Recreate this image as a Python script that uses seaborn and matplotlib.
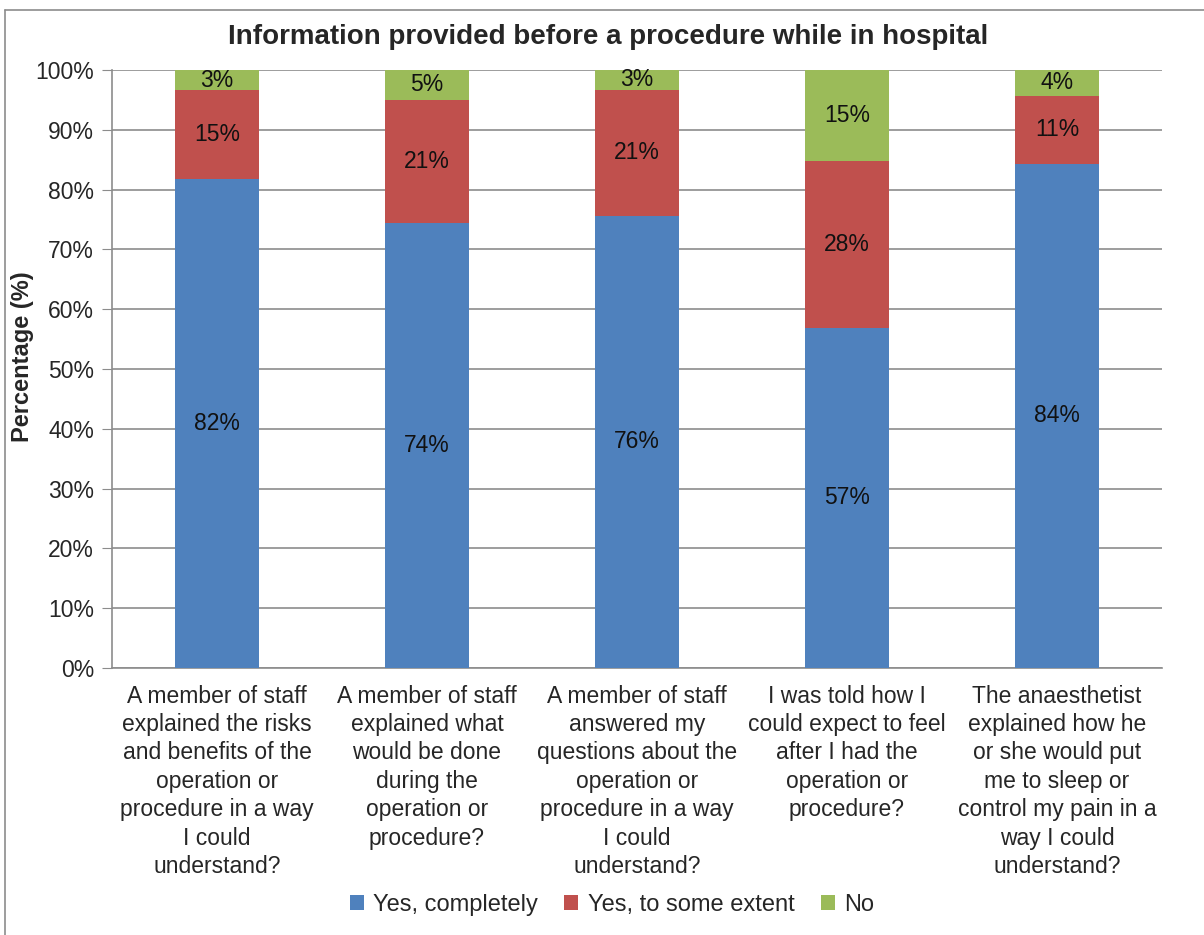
import numpy as np
import pandas as pd
import matplotlib
matplotlib.use('Agg')
import matplotlib.pyplot as plt
from matplotlib.lines import Line2D
from matplotlib.patches import Patch
import seaborn as sns

# Data
questions = [
    'A member of staff\nexplained the risks\nand benefits of the\noperation or\nprocedure in a way\nI could\nunderstand?',
    'A member of staff\nexplained what\nwould be done\nduring the\noperation or\nprocedure?',
    'A member of staff\nanswered my\nquestions about the\noperation or\nprocedure in a way\nI could\nunderstand?',
    'I was told how I\ncould expect to feel\nafter I had the\noperation or\nprocedure?',
    'The anaesthetist\nexplained how he\nor she would put\nme to sleep or\ncontrol my pain in a\nway I could\nunderstand?',
]
yes_completely = [81.7, 74.4, 75.6, 56.9, 84.3]
yes_some_extent = [14.9, 20.6, 21.1, 27.9, 11.4]
no = [3.4, 5.0, 3.3, 15.2, 4.3]
series_names = ['Yes, completely', 'Yes, to some extent', 'No']
colors = ['#4F81BD', '#C0504D', '#9BBB59']

sns.set_style('white')
plt.rcParams['font.family'] = ['Liberation Sans', 'DejaVu Sans']

df = pd.DataFrame({'q': questions, 'blue': yes_completely,
                   'red': yes_some_extent, 'green': no})
df['top_red'] = df['blue'] + df['red']
df['top_green'] = df['top_red'] + df['green']

fig = plt.figure(figsize=(12.04, 9.35), dpi=100)
ax = fig.add_axes([112 / 1204, 1 - 668 / 935, 1050 / 1204, 598 / 935])

# stacked bars: draw cumulative tops from highest down
for col, c in zip(['top_green', 'top_red', 'blue'], colors[::-1]):
    sns.barplot(data=df, x='q', y=col, color=c, width=0.4, saturation=1,
                linewidth=0, ax=ax, zorder=3)

# segment labels
for i, row in df.iterrows():
    segs = [(0, row['blue']), (row['blue'], row['top_red']),
            (row['top_red'], row['top_green'])]
    vals = [row['blue'], row['red'], row['green']]
    for (lo, hi), v in zip(segs, vals):
        ax.text(i, (lo + hi) / 2, f'{v:.0f}%', ha='center', va='center',
                fontsize=16.5, color='#111111', zorder=4)

ax.set_ylim(0, 100)
ax.set_xlim(-0.5, 4.5)
ax.set_yticks(np.arange(0, 101, 10))
ax.set_yticklabels([f'{t}%' for t in range(0, 101, 10)], fontsize=16.5)
ax.yaxis.grid(True, color='#8c8c8c', linewidth=1.2, zorder=0)
ax.set_axisbelow(True)

ax.set_xticks(range(len(questions)))
ax.set_xticklabels(questions, fontsize=16.5, linespacing=1.3)
ax.set_xticks(np.arange(-0.5, 5, 1), minor=True)
ax.tick_params(axis='x', which='major', length=0, pad=12)
ax.tick_params(axis='x', which='minor', length=7, color='#8c8c8c', direction='out')
ax.tick_params(axis='y', length=7, color='#8c8c8c', direction='out', left=True, pad=6)

for s in ['top', 'right']:
    ax.spines[s].set_visible(False)
for s in ['left', 'bottom']:
    ax.spines[s].set_color('#8c8c8c')
    ax.spines[s].set_linewidth(1.2)

ax.set_xlabel('')
ax.set_ylabel('Percentage (%)', fontsize=17, fontweight='bold')
ax.yaxis.set_label_coords(-78 / 1050, 0.52)

fig.text(608 / 1204, 1 - 37 / 935,
         'Information provided before a procedure while in hospital',
         ha='center', va='center', fontsize=20, fontweight='bold')

handles = [Patch(facecolor=c, edgecolor='none') for c in colors]
fig.legend(handles, series_names, loc='center', ncol=3,
           bbox_to_anchor=(612 / 1204, 1 - 905 / 935), frameon=False,
           fontsize=17, handlelength=0.6, handleheight=0.6,
           handletextpad=0.4, columnspacing=1.1)

# outer chart border (cropped on right/bottom)
fig.add_artist(Line2D([5 / 1204, 5 / 1204], [0, 1 - 10 / 935],
                      transform=fig.transFigure, color='#8c8c8c', lw=1.2))
fig.add_artist(Line2D([5 / 1204, 1], [1 - 10 / 935, 1 - 10 / 935],
                      transform=fig.transFigure, color='#8c8c8c', lw=1.2))

fig.savefig('out.png', dpi=100, facecolor='white')
